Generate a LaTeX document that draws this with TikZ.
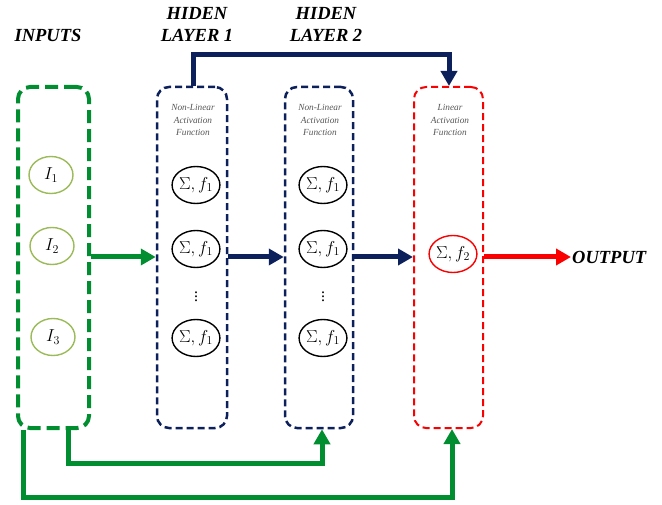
\documentclass[tikz,border=0pt]{standalone}
\usepackage{fontspec}
\setmainfont{Liberation Serif}
\usetikzlibrary{arrows.meta,shapes.geometric}
\definecolor{ngreen}{RGB}{0,142,48}
\definecolor{navy}{RGB}{12,32,92}
\definecolor{olivec}{RGB}{155,187,89}
\definecolor{lgray}{RGB}{85,85,85}
\definecolor{nred}{RGB}{250,0,0}
\begin{document}
\begin{tikzpicture}[x=1pt,y=-1pt,
  title/.style={font=\fontsize{18.5}{22}\selectfont\bfseries\itshape, align=center, inner sep=0pt},
  small/.style={font=\fontsize{9.3}{12.5}\selectfont\itshape, text=lgray, align=center, inner sep=0pt},
  layerbox/.style={rectangle, rounded corners=12pt, inner sep=0pt, minimum height=341pt},
  gbox/.style={layerbox, draw=ngreen, line width=4pt, dash pattern=on 13pt off 6pt},
  nbox/.style={layerbox, draw=navy, line width=2.5pt, dash pattern=on 7pt off 4pt},
  rbox/.style={layerbox, draw=nred, line width=2pt, dash pattern=on 7pt off 4pt},
  neuron/.style={ellipse, draw, line width=1.4pt, inner sep=0pt, minimum width=47pt, minimum height=37pt, font=\fontsize{17}{19}\selectfont},
  dots/.style={inner sep=0pt, font=\fontsize{16}{18}\selectfont},
  tipA/.style={-{Triangle[length=15pt,width=16pt]}},
  gline/.style={draw=ngreen, line width=5pt, line join=miter},
  nline/.style={draw=navy, line width=5pt, line join=miter},
  rline/.style={draw=nred, line width=5pt}
]
\useasboundingbox (0,0) rectangle (662,505);

% titles
\node[title] (tin) at (48,35) {INPUTS};
\node[title] (th1) at (197,24) {HIDEN\\LAYER 1};
\node[title] (th2) at (326,24) {HIDEN\\LAYER 2};

% boxes
\node[gbox, minimum width=71pt] (inbox) at (53.5,257.5) {};
\node[nbox, minimum width=70pt] (h1) at (192,257.5) {};
\node[nbox, minimum width=68pt] (h2) at (319,257.5) {};
\node[rbox, minimum width=69pt] (ob) at (448.5,257.5) {};

% small labels
\node[small] (l1) at (193,120) {Non-Linear\\Activation\\Function};
\node[small] (l2) at (320,120) {Non-Linear\\Activation\\Function};
\node[small] (l3) at (450,120) {Linear\\Activation\\Function};

% input neurons
\node[neuron, draw=olivec, minimum width=44pt] (i1) at (51,175) {$I_1$};
\node[neuron, draw=olivec, minimum width=44pt] (i2) at (52,246) {$I_2$};
\node[neuron, draw=olivec, minimum width=44pt] (i3) at (53,337) {$I_3$};

% hidden layer 1
\node[neuron] (a1) at (196,185) {$\Sigma, f_1$};
\node[neuron] (a2) at (196,249) {$\Sigma, f_1$};
\node[dots] (ad) at (196,294) {$\vdots$};
\node[neuron] (a3) at (196,338) {$\Sigma, f_1$};

% hidden layer 2
\node[neuron] (b1n) at (323,185) {$\Sigma, f_1$};
\node[neuron] (b2n) at (323,249) {$\Sigma, f_1$};
\node[dots] (bd) at (323,294) {$\vdots$};
\node[neuron] (b3n) at (323,338) {$\Sigma, f_1$};

% output neuron
\node[neuron, draw=nred] (o1) at (453,254) {$\Sigma, f_2$};

% output label
\node[title, anchor=west, inner sep=1pt] (outl) at (571,257) {OUTPUT};

% main arrows
\coordinate (m) at (0,257);
\draw[gline, tipA] (inbox.east |- m) -- (h1.west |- m);
\draw[nline, tipA] (h1.east |- m) -- (h2.west |- m);
\draw[nline, tipA] (h2.east |- m) -- (ob.west |- m);
\draw[rline, tipA] (ob.east |- m) -- (outl.west);

% top skip connection
\coordinate (t1) at (193,55);
\coordinate (t2) at (449,55);
\draw[nline, tipA] (h1.north -| t1) -- (t1) -- (t2) -- (ob.north -| t2);

% bottom skip connections
\coordinate (p1) at (68,463);
\coordinate (p2) at (322,463);
\draw[gline, tipA] (inbox.south -| p1) -- (p1) -- (p2) -- (h2.south -| p2);
\coordinate (q1) at (23,497);
\coordinate (q2) at (452,497);
\draw[gline, tipA] (inbox.south -| q1) -- (q1) -- (q2) -- (ob.south -| q2);
\end{tikzpicture}
\end{document}
